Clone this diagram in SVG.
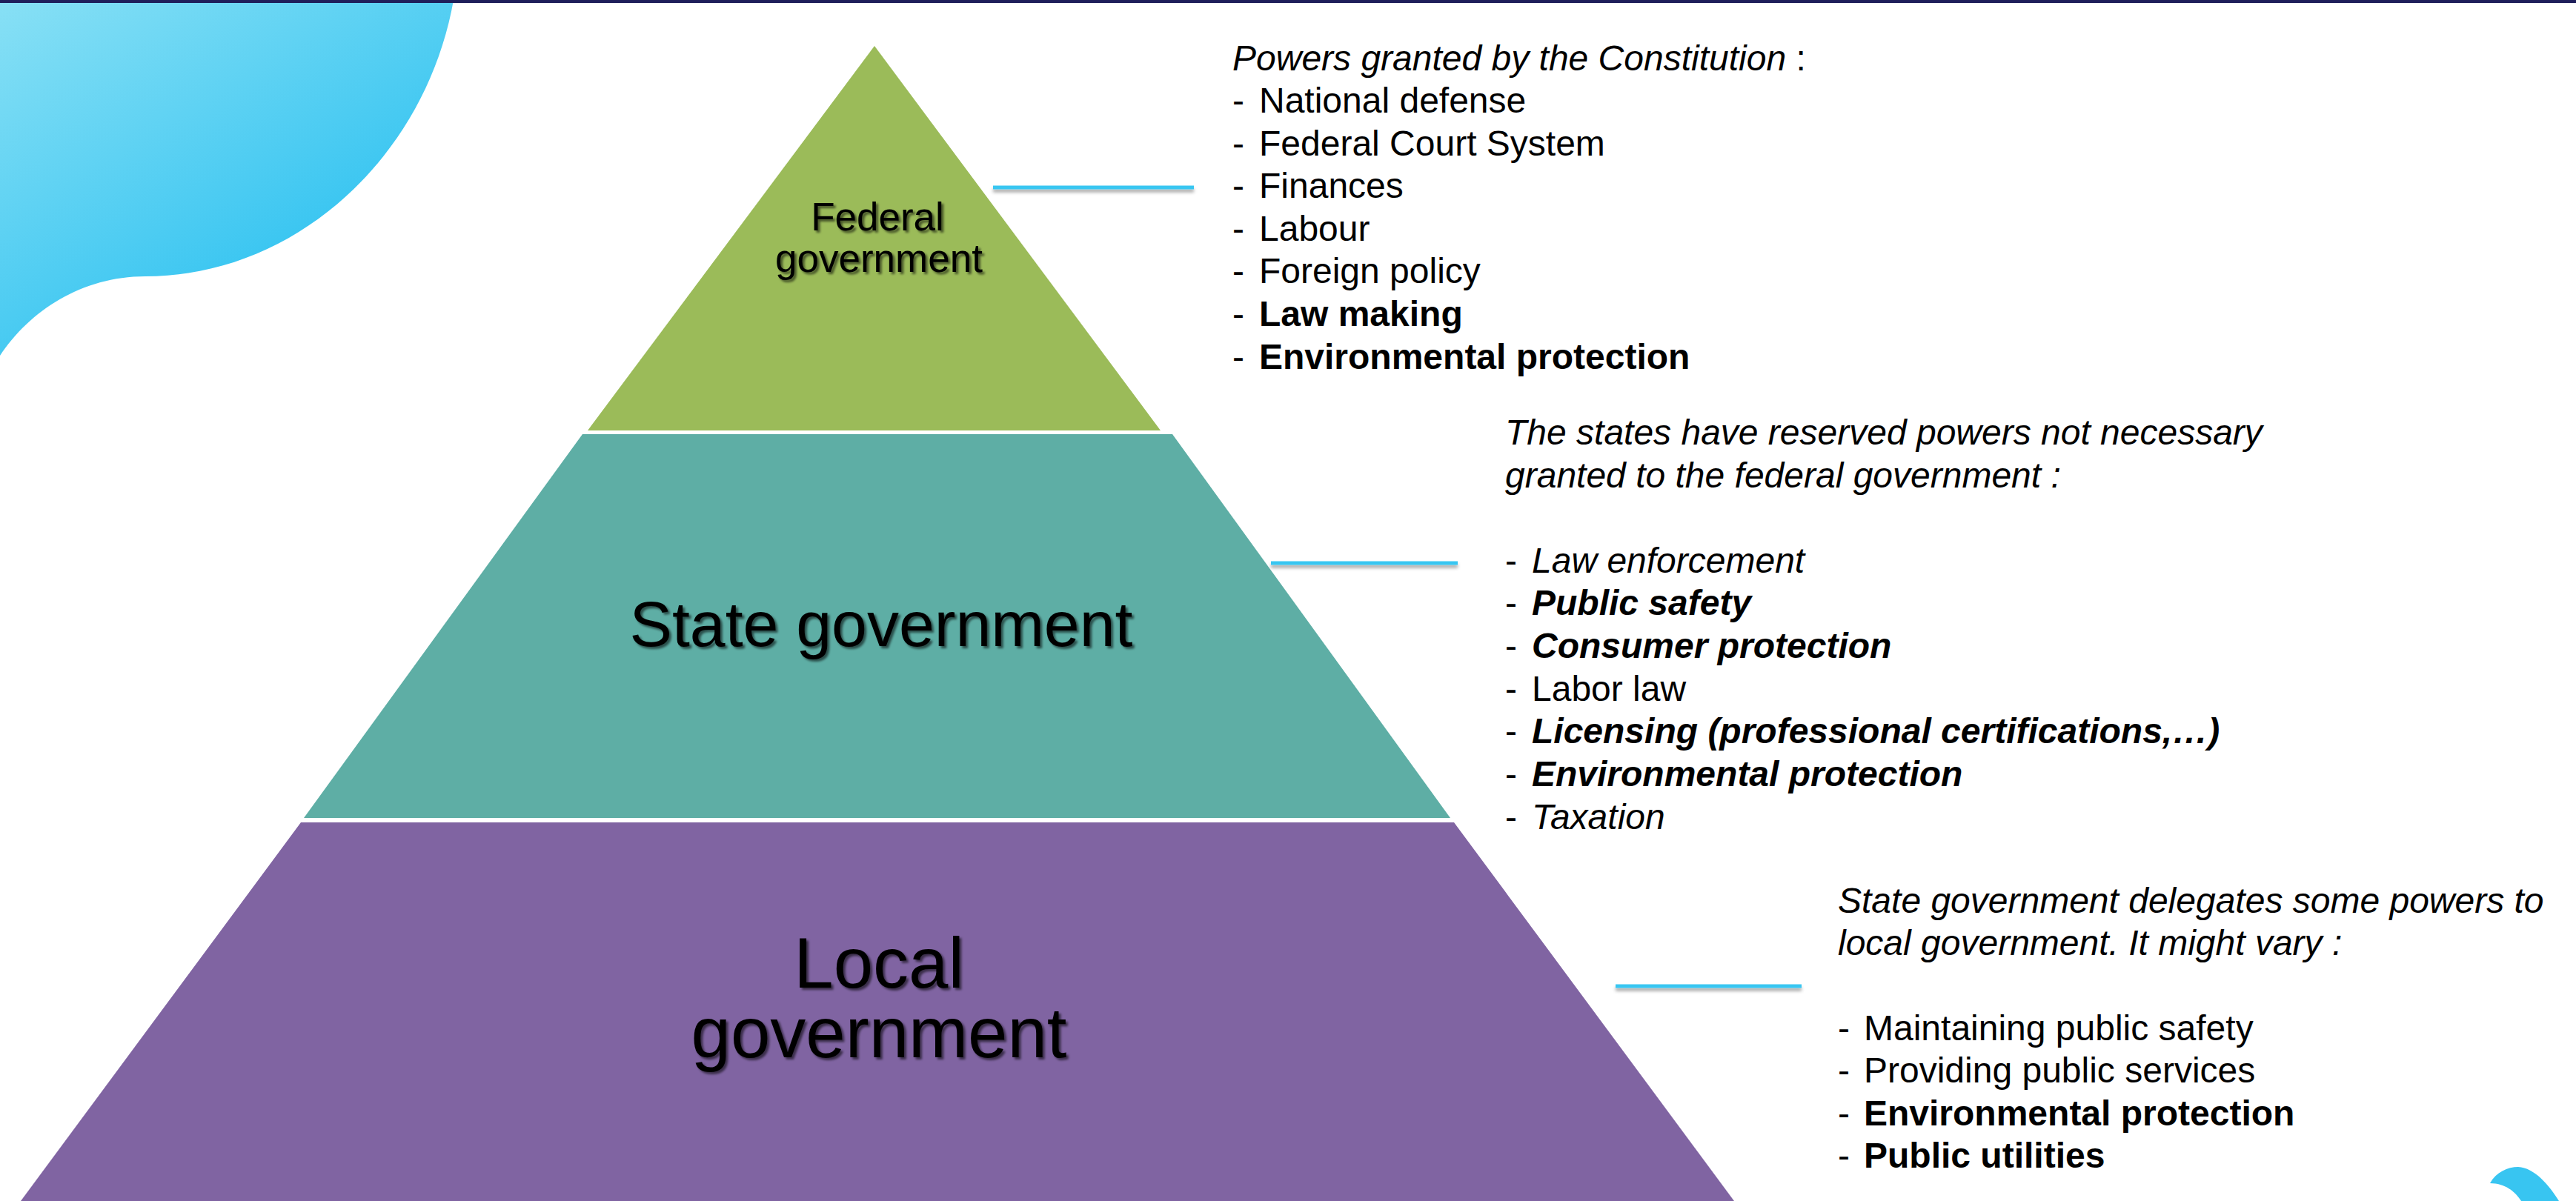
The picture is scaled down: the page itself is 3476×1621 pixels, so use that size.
<svg xmlns="http://www.w3.org/2000/svg" width="3476" height="1621" viewBox="0 0 3476 1621">
  <defs>
    <linearGradient id="blobGrad" gradientUnits="userSpaceOnUse" x1="0" y1="0" x2="260" y2="430">
      <stop offset="0" stop-color="#88e0f5"/>
      <stop offset="1" stop-color="#38c5f1"/>
    </linearGradient>
    <filter id="txtShadow" x="-10%" y="-30%" width="120%" height="160%">
      <feDropShadow dx="3" dy="3" stdDeviation="1.8" flood-color="#000" flood-opacity="0.55"/>
    </filter>
    <filter id="lineShadow" x="-5%" y="-300%" width="110%" height="700%">
      <feDropShadow dx="0" dy="4" stdDeviation="2" flood-color="#000" flood-opacity="0.35"/>
    </filter>
  </defs>
  <style>
    .lbl { font-family: "Liberation Sans", Arial, sans-serif; fill: #000; text-anchor: middle; }
    .txt { font-family: "Liberation Sans", Arial, sans-serif; font-size: 48px; fill: #000; }
    .i { font-style: italic; }
    .b { font-weight: bold; }
    .bi { font-weight: bold; font-style: italic; }
    .conn { stroke: #38c6f1; stroke-width: 5; fill: none; }
  </style>

  <rect x="0" y="0" width="3476" height="1621" fill="#ffffff"/>

  <!-- decorative background shapes -->
  <path d="M0,0 H612 C575,210 400,373 196,373 C110,373 40,420 0,480 Z" fill="url(#blobGrad)"/>
  <path d="M3360,1597 C3368,1582 3384,1575 3398,1575 C3420,1576 3440,1600 3453,1621 L3402,1621 C3394,1608 3380,1597 3360,1597 Z" fill="#38c5f1"/>
  <rect x="0" y="0" width="3476" height="4" fill="#1f1f5b"/>

  <!-- pyramid nodes -->
  <g id="node-federal">
    <path d="M1180,62 L1566,581 L793,581 Z" fill="#9bbb59"/>
    <g filter="url(#txtShadow)">
      <text class="lbl" x="1184" y="311" font-size="53">Federal</text>
      <text class="lbl" x="1186" y="367" font-size="53">government</text>
    </g>
  </g>
  <g id="node-state">
    <path d="M786,586 L1582,586 L1957,1104 L410,1104 Z" fill="#5eaea5"/>
    <g filter="url(#txtShadow)">
      <text class="lbl" x="1189" y="872" font-size="86">State government</text>
    </g>
  </g>
  <g id="node-local">
    <path d="M406,1110 L1962,1110 L2340,1621 L28,1621 Z" fill="#8064a2"/>
    <g filter="url(#txtShadow)">
      <text class="lbl" x="1186" y="1333" font-size="96">Local</text>
      <text class="lbl" x="1186" y="1427" font-size="96">government</text>
    </g>
  </g>

  <!-- connectors -->
  <g id="connectors" filter="url(#lineShadow)">
    <line class="conn" x1="1340" y1="253" x2="1611" y2="253"/>
    <line class="conn" x1="1715" y1="760" x2="1967" y2="760"/>
    <line class="conn" x1="2180" y1="1331" x2="2431" y2="1331"/>
  </g>

  <!-- federal powers -->
  <g id="text-federal" class="txt">
    <text x="1663" y="95"><tspan class="i">Powers granted by the Constitution</tspan> :</text>
    <text x="1663" y="152">-</text><text x="1699" y="152">National defense</text>
    <text x="1663" y="210">-</text><text x="1699" y="210">Federal Court System</text>
    <text x="1663" y="267">-</text><text x="1699" y="267">Finances</text>
    <text x="1663" y="325">-</text><text x="1699" y="325">Labour</text>
    <text x="1663" y="382">-</text><text x="1699" y="382">Foreign policy</text>
    <text x="1663" y="440">-</text><text x="1699" y="440" class="b">Law making</text>
    <text x="1663" y="498">-</text><text x="1699" y="498" class="b">Environmental protection</text>
  </g>

  <!-- state powers -->
  <g id="text-state" class="txt">
    <text x="2031" y="600" class="i">The states have reserved powers not necessary</text>
    <text x="2031" y="658" class="i">granted to the federal government :</text>
    <text x="2031" y="773">-</text><text x="2067" y="773" class="i">Law enforcement</text>
    <text x="2031" y="830">-</text><text x="2067" y="830" class="bi">Public safety</text>
    <text x="2031" y="888">-</text><text x="2067" y="888" class="bi">Consumer protection</text>
    <text x="2031" y="946">-</text><text x="2067" y="946">Labor law</text>
    <text x="2031" y="1003">-</text><text x="2067" y="1003" class="bi">Licensing (professional certifications,…)</text>
    <text x="2031" y="1061">-</text><text x="2067" y="1061" class="bi">Environmental protection</text>
    <text x="2031" y="1119">-</text><text x="2067" y="1119" class="i">Taxation</text>
  </g>

  <!-- local powers -->
  <g id="text-local" class="txt">
    <text x="2480" y="1232" class="i">State government delegates some powers to</text>
    <text x="2480" y="1289" class="i">local government. It might vary :</text>
    <text x="2480" y="1404">-</text><text x="2515" y="1404">Maintaining public safety</text>
    <text x="2480" y="1461">-</text><text x="2515" y="1461">Providing public services</text>
    <text x="2480" y="1519">-</text><text x="2515" y="1519" class="b">Environmental protection</text>
    <text x="2480" y="1576">-</text><text x="2515" y="1576" class="b">Public utilities</text>
  </g>
</svg>
